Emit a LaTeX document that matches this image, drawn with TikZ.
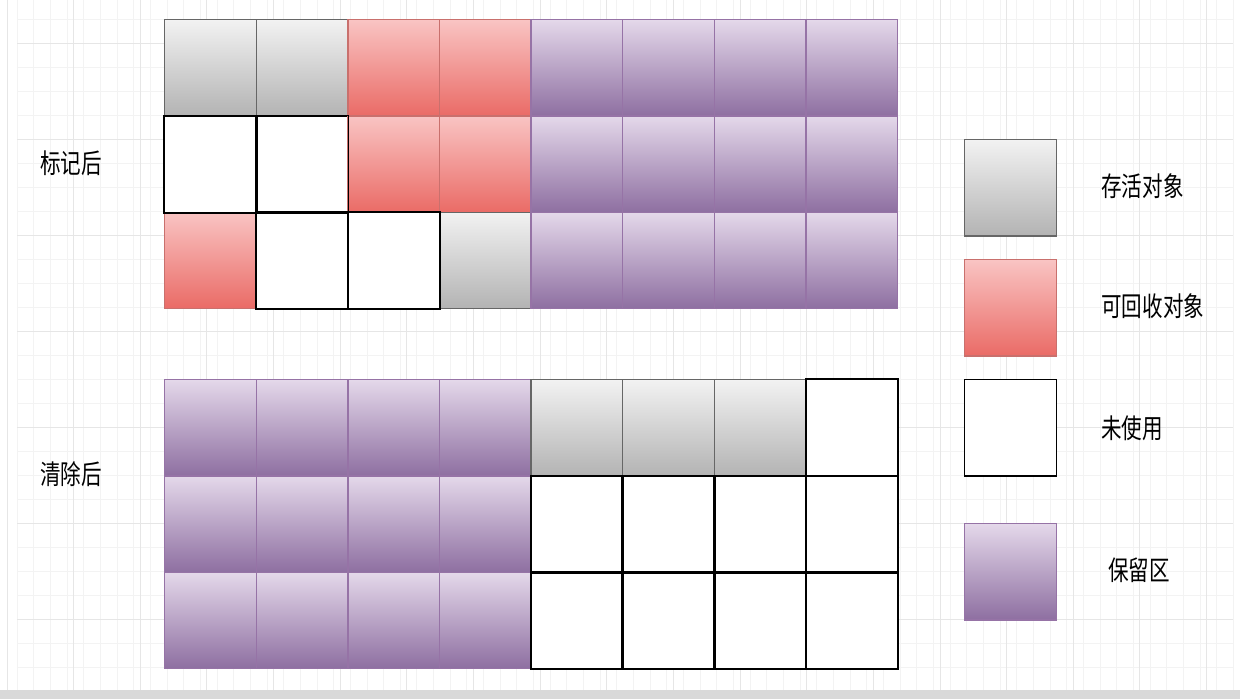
\documentclass[tikz,border=0pt]{standalone}
\usepackage{fontspec}
\usepackage{tikz}
\newfontfamily\cjk[FakeStretch=0.76]{Noto Sans CJK SC}
\definecolor{livetop}{HTML}{F2F2F2}
\definecolor{livebot}{HTML}{B3B3B3}
\definecolor{liveline}{HTML}{666666}
\definecolor{gctop}{HTML}{F9C4C3}
\definecolor{gcbot}{HTML}{EA6B66}
\definecolor{gcline}{HTML}{C9706D}
\definecolor{keeptop}{HTML}{E4D8EA}
\definecolor{keepbot}{HTML}{8E6FA1}
\definecolor{keepline}{HTML}{9673A6}
\definecolor{gridminor}{HTML}{F3F3F3}
\definecolor{gridmajor}{HTML}{E6E6E6}
\definecolor{barfill}{HTML}{D9D9D9}
\tikzstyle{cell} = [rectangle, inner sep=0pt, minimum width=1.832cm, minimum height=1.926cm, anchor=north west, line width=0.8pt]
\tikzstyle{label} = [font=\cjk\fontsize{15.4}{18}\selectfont, inner sep=0pt]

\begin{document}
\begin{tikzpicture}[
  x=0.02cm, y=-0.02cm,
  live/.style={cell, draw=liveline, top color=livetop, bottom color=livebot},
  gc/.style={cell, draw=gcline, top color=gctop, bottom color=gcbot},
  keep/.style={cell, draw=keepline, top color=keeptop, bottom color=keepbot},
  free/.style={cell, draw=black, fill=white},
  freeline/.style={draw=black, line width=0.8pt}
]
\useasboundingbox (0,0) rectangle (1240,699);

% background paper grid
\foreach \gx in {0,...,73}
  \draw[gridminor, line width=0.4pt] ({17+16.66*\gx},0) -- ({17+16.66*\gx},690);
\foreach \gy in {-1,...,27}
  \draw[gridminor, line width=0.4pt] (17,{43+24*\gy}) -- (1233,{43+24*\gy});
\foreach \gx in {0,...,18}
  \draw[gridmajor, line width=0.5pt] ({7+66.64*\gx},0) -- ({7+66.64*\gx},690);
\foreach \gy in {0,...,6}
  \draw[gridmajor, line width=0.5pt] (17,{43+96*\gy}) -- (1233,{43+96*\gy});
\fill[barfill] (0,690) rectangle (1240,699);

% after marking
\foreach \row/\types in {1/{live,live,gc,gc,keep,keep,keep,keep},
                         2/{free,free,gc,gc,keep,keep,keep,keep},
                         3/{gc,free,free,live,keep,keep,keep,keep}}
  \foreach \t [count=\col] in \types
    \node[\t] (m-\row-\col) at ({164+91.6*(\col-1)},{19+96.3*(\row-1)}) {};

% after sweeping
\foreach \row/\types in {1/{keep,keep,keep,keep,live,live,live,free},
                         2/{keep,keep,keep,keep,free,free,free,free},
                         3/{keep,keep,keep,keep,free,free,free,free}}
  \foreach \t [count=\col] in \types
    \node[\t] (c-\row-\col) at ({164+91.6*(\col-1)},{379+96.3*(\row-1)}) {};

% black borders of unused cells on top
\foreach \n in {m-2-1,m-2-2,m-3-2,m-3-3,c-1-8,c-2-5,c-2-6,c-2-7,c-2-8,c-3-5,c-3-6,c-3-7,c-3-8}
  \draw[freeline] (\n.north west) rectangle (\n.south east);

% row labels
\node[label] (lbl-mark) at (71,163) {标记后};
\node[label] (lbl-sweep) at (71,474) {清除后};

% legend
\node[live] (key-live) at (964,139) {};
\node[gc] (key-gc) at (964,259) {};
\node[free] (key-free) at (964,379) {};
\node[keep] (key-keep) at (964,523) {};
\node[label, anchor=west] (txt-live) at (1101,186) {存活对象};
\node[label, anchor=west] (txt-gc) at (1101,306) {可回收对象};
\node[label, anchor=west] (txt-free) at (1101,428) {未使用};
\node[label, anchor=west] (txt-keep) at (1108,570) {保留区};
\end{tikzpicture}
\end{document}
